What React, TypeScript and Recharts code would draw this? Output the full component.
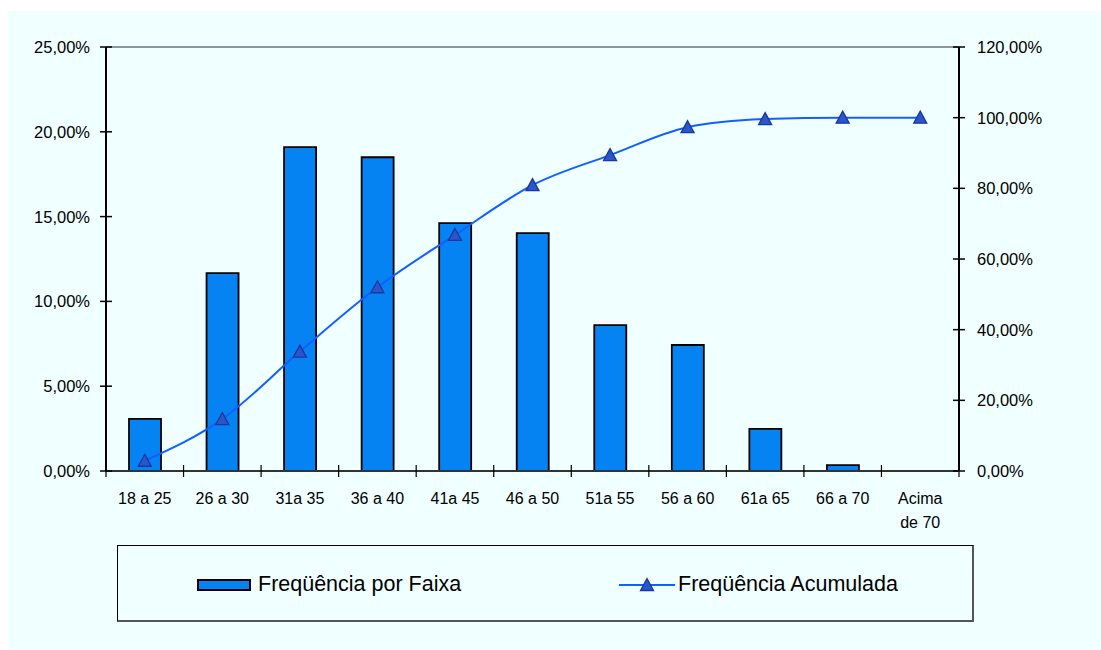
import React from "react";
import {
  Bar,
  ComposedChart,
  Legend,
  Line,
  ReferenceLine,
  XAxis,
  YAxis,
} from "recharts";

const categories = [
  "18 a 25",
  "26 a 30",
  "31a 35",
  "36 a 40",
  "41a 45",
  "46 a 50",
  "51a 55",
  "56 a 60",
  "61a 65",
  "66 a 70",
  "Acima de 70",
];
const freqPorFaixa = [3.07, 11.67, 19.1, 18.5, 14.62, 14.03, 8.6, 7.43, 2.48, 0.35, 0];
const freqAcumulada = [2.9, 14.7, 33.8, 52.0, 66.8, 80.9, 89.4, 97.3, 99.6, 100, 100];
const leftTicks = [0, 5, 10, 15, 20, 25];
const rightTicks = [0, 20, 40, 60, 80, 100, 120];

const data = categories.map((c, i) => ({
  faixa: c,
  freq: freqPorFaixa[i],
  acum: freqAcumulada[i],
}));

const W = 1093;
const H = 639;
const PLOT_LEFT = 98;
const PLOT_RIGHT = 951;
const BAND = (PLOT_RIGHT - PLOT_LEFT) / categories.length;
const FONT = "'Liberation Sans', Arial, sans-serif";
const BAR_BLUE = "#0583F2";
const LINE_BLUE = "#1060FF";

const fmt = (v: number) => v.toFixed(2).replace(".", ",") + "%";

const LeftTick = (props: any) => {
  const { x, y, payload } = props;
  return (
    <g>
      <line x1={x - 6} x2={x + 6} y1={y} y2={y} stroke="#000" strokeWidth={1.5} />
      <text x={x - 16} y={y} dy={6} textAnchor="end" fontSize={16.5} fill="#000" fontFamily={FONT}>
        {fmt(payload.value)}
      </text>
    </g>
  );
};

const RightTick = (props: any) => {
  const { x, y, payload } = props;
  return (
    <g>
      <line x1={x - 6} x2={x + 6} y1={y} y2={y} stroke="#000" strokeWidth={1.5} />
      <text x={x + 18} y={y} dy={6} textAnchor="start" fontSize={16.5} fill="#000" fontFamily={FONT}>
        {fmt(payload.value)}
      </text>
    </g>
  );
};

const XTick = (props: any) => {
  const { x, y, payload, index } = props;
  const label: string = payload.value;
  let lines = [label];
  if (label.length > 8) {
    const k = label.indexOf(" ");
    lines = [label.slice(0, k), label.slice(k + 1)];
  }
  const last = index === categories.length - 1;
  return (
    <g>
      <line x1={x - BAND / 2} x2={x - BAND / 2} y1={y - 6} y2={y + 6} stroke="#000" strokeWidth={1.2} />
      {last && (
        <line x1={x + BAND / 2} x2={x + BAND / 2} y1={y - 6} y2={y + 6} stroke="#000" strokeWidth={1.2} />
      )}
      <text x={x} y={y + 33} textAnchor="middle" fontSize={16} fill="#000" fontFamily={FONT}>
        {lines.map((l, i) => (
          <tspan key={i} x={x} dy={i === 0 ? 0 : 24}>
            {l}
          </tspan>
        ))}
      </text>
    </g>
  );
};

const Triangle = (props: any) => {
  const { cx, cy, index } = props;
  if (cx == null || cy == null) return <g key={index} />;
  return (
    <path
      key={index}
      d={`M${cx},${cy - 6.5} L${cx + 6.5},${cy + 5.5} L${cx - 6.5},${cy + 5.5} Z`}
      fill="#2B55C8"
      stroke="#17389E"
      strokeWidth={1.3}
    />
  );
};

const LegendBox = () => (
  <div
    style={{
      width: 857,
      height: 77,
      boxSizing: "border-box",
      borderTop: "1px solid #000",
      borderLeft: "1px solid #000",
      borderRight: "2px solid #555",
      borderBottom: "2px solid #555",
      position: "relative",
      fontFamily: FONT,
      fontSize: 21.5,
      color: "#000",
    }}
  >
    <div
      style={{
        position: "absolute",
        left: 79,
        top: 33,
        width: 54,
        height: 12,
        boxSizing: "border-box",
        background: BAR_BLUE,
        border: "2px solid #000",
      }}
    />
    <div style={{ position: "absolute", left: 140, top: 26, lineHeight: "24px" }}>
      Freqüência por Faixa
    </div>
    <svg style={{ position: "absolute", left: 501, top: 27 }} width={56} height={24}>
      <line x1={0} x2={56} y1={12} y2={12} stroke={LINE_BLUE} strokeWidth={2} />
      <path d="M28,5.5 L34.5,17.5 L21.5,17.5 Z" fill="#2B55C8" stroke="#17389E" strokeWidth={1.3} />
    </svg>
    <div style={{ position: "absolute", left: 560, top: 26, lineHeight: "24px" }}>
      Freqüência Acumulada
    </div>
  </div>
);

export default function App() {
  return (
    <div style={{ position: "absolute", left: 0, top: 0, width: 1101, height: 650, background: "#fff" }}>
      <div style={{ position: "absolute", left: 8, top: 11, width: W, height: H, background: "#F0FFFF" }}>
        <ComposedChart
          width={W}
          height={H}
          data={data}
          margin={{ top: 36, right: 0, bottom: 119, left: 0 }}
        >
          <XAxis
            dataKey="faixa"
            interval={0}
            height={60}
            tickSize={0}
            tickMargin={0}
            tickLine={false}
            axisLine={{ stroke: "#333", strokeWidth: 2 }}
            tick={<XTick />}
          />
          <YAxis
            yAxisId="left"
            orientation="left"
            domain={[0, 25]}
            ticks={leftTicks}
            width={PLOT_LEFT}
            tickSize={0}
            tickMargin={0}
            tickLine={false}
            axisLine={{ stroke: "#000", strokeWidth: 2 }}
            tick={<LeftTick />}
            interval={0}
          />
          <YAxis
            yAxisId="right"
            orientation="right"
            domain={[0, 120]}
            ticks={rightTicks}
            width={W - PLOT_RIGHT}
            tickSize={0}
            tickMargin={0}
            tickLine={false}
            axisLine={{ stroke: "#000", strokeWidth: 2 }}
            tick={<RightTick />}
            interval={0}
          />
          <ReferenceLine yAxisId="left" y={25} stroke="#8A94A6" strokeWidth={2} />
          <Bar
            yAxisId="left"
            dataKey="freq"
            barSize={32}
            fill={BAR_BLUE}
            stroke="#000"
            strokeWidth={1.8}
            isAnimationActive={false}
          />
          <Line
            yAxisId="right"
            type="monotone"
            dataKey="acum"
            stroke={LINE_BLUE}
            strokeWidth={2}
            dot={Triangle}
            activeDot={false}
            isAnimationActive={false}
          />
          <Legend
            layout="horizontal"
            verticalAlign="middle"
            align="center"
            content={<LegendBox />}
            wrapperStyle={{ left: 109, top: 534, width: 857, height: 77 }}
          />
        </ComposedChart>
      </div>
    </div>
  );
}
